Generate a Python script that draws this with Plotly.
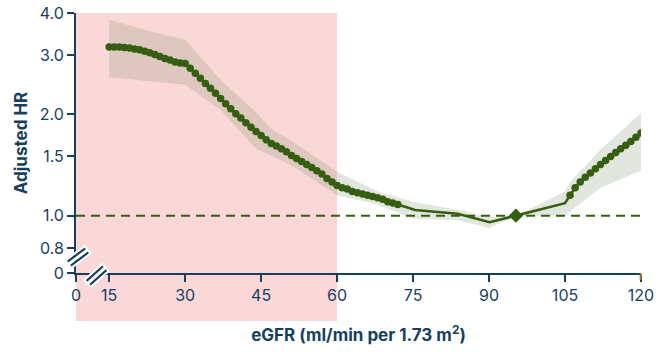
import math
import plotly.graph_objects as go

# ---------------- data ----------------
# Segment with markers (eGFR 15..72)
seg1_x = list(range(15, 73))
seg1_hr = [3.17, 3.17, 3.17, 3.16, 3.15, 3.13, 3.11, 3.08, 3.05, 3.01,
           2.97, 2.93, 2.90, 2.86, 2.84, 2.83, 2.74, 2.65, 2.56, 2.47,
           2.39, 2.31, 2.23, 2.15, 2.08, 2.01, 1.95, 1.89, 1.83, 1.78,
           1.73, 1.68, 1.64, 1.61, 1.58, 1.55, 1.51, 1.48, 1.45, 1.42,
           1.39, 1.36, 1.33, 1.29, 1.26, 1.23, 1.21, 1.20, 1.18, 1.17,
           1.16, 1.15, 1.14, 1.13, 1.12, 1.10, 1.09, 1.08]
# Segment without markers
seg2_x = [72, 75.4, 83.8, 90.1, 95.3, 105]
seg2_hr = [1.08, 1.04, 1.013, 0.956, 1.0, 1.09]
# Segment with markers (eGFR 106..120)
seg3_x = list(range(106, 121))
seg3_hr = [1.15, 1.21, 1.26, 1.30, 1.34, 1.38, 1.42, 1.46, 1.50, 1.54,
           1.58, 1.62, 1.66, 1.71, 1.76]
# Reference point
ref_x = [95.3]
ref_hr = [1.0]
# Confidence band
ci_x = [15, 22, 30, 37, 44, 47, 51, 60, 68, 75, 84, 90, 95.3, 105, 106, 112, 120]
ci_upper = [3.82, 3.57, 3.33, 2.53, 2.03, 1.81, 1.67, 1.35, 1.18, 1.10, 1.04,
            0.99, 1.00, 1.18, 1.26, 1.57, 2.02]
ci_lower = [2.58, 2.52, 2.45, 2.06, 1.58, 1.51, 1.41, 1.15, 1.08, 0.98, 0.97,
            0.92, 1.00, 1.00, 1.03, 1.21, 1.36]

x_tickvals = [8.45, 15, 30, 45, 60, 75, 90, 105, 120]
x_ticktext = ["0", "15", "30", "45", "60", "75", "90", "105", "120"]
y_tickvals = [0.676, 0.8, 1.0, 1.5, 2.0, 3.0, 4.0]
y_ticktext = ["0", "0.8", "1.0", "1.5", "2.0", "3.0", "4.0"]
ckd_limit = 60

# ---------------- style ----------------
W, H = 659, 352
ML, MR, MT, MB = 76, 18, 13, 79
PW, PH = W - ML - MR, H - MT - MB
NAVY = "#173f5f"
GREEN = "#365e10"
PINK = "#fad8d8"
FONT = "Inter"
XMIN, XMAX = 8.45, 120.0

all_x = seg1_x + seg2_x[1:] + seg3_x
all_y = seg1_hr + seg2_hr[1:] + seg3_hr

fig = go.Figure()
fig.add_trace(go.Scatter(x=ci_x, y=ci_upper, mode="lines", line=dict(width=0),
                         hoverinfo="skip", showlegend=False))
fig.add_trace(go.Scatter(x=ci_x, y=ci_lower, mode="lines", line=dict(width=0),
                         fill="tonexty", fillcolor="rgba(90,120,70,0.18)",
                         hoverinfo="skip", showlegend=False))
fig.add_trace(go.Scatter(x=[XMIN, XMAX], y=[1, 1], mode="lines",
                         line=dict(color=GREEN, width=2, dash="9px,6px"),
                         showlegend=False, hoverinfo="skip"))
fig.add_trace(go.Scatter(x=all_x, y=all_y, mode="lines",
                         line=dict(color=GREEN, width=2.5), showlegend=False))
fig.add_trace(go.Scatter(x=seg1_x + seg3_x, y=seg1_hr + seg3_hr, mode="markers",
                         marker=dict(color=GREEN, size=7.5), showlegend=False))
fig.add_trace(go.Scatter(x=ref_x, y=ref_hr, mode="markers",
                         marker=dict(color=GREEN, size=11, symbol="diamond"),
                         showlegend=False))


def to_paper(px, py):
    return (px - ML) / PW, (H - MB - py) / PH


shapes = []
# CKD region shading (extends below axis)
xp_end = (ckd_limit - XMIN) / (XMAX - XMIN)
shapes.append(dict(type="rect", xref="paper", yref="paper", x0=0, x1=xp_end,
                   y0=to_paper(0, 321)[1], y1=1, fillcolor=PINK, line_width=0,
                   layer="below"))


def brk(cx, cy, ang, L, w, lw):
    a = math.radians(ang)
    ux, uy = math.cos(a), -math.sin(a)
    nx, ny = math.sin(a), math.cos(a)
    pts = []
    for s1, s2 in [(-1, -1), (1, -1), (1, 1), (-1, 1)]:
        pts.append((cx + s1 * ux * L / 2 + s2 * nx * w / 2,
                    cy + s1 * uy * L / 2 + s2 * ny * w / 2))
    path = "M " + " L ".join("%f,%f" % to_paper(*p) for p in pts) + " Z"
    out = [dict(type="path", xref="paper", yref="paper", path=path,
                fillcolor="white", line=dict(color="#fbeaea", width=1), layer="above")]
    for off in (-lw, lw):
        x0 = cx - ux * (L / 2 - 2) + nx * off
        y0 = cy - uy * (L / 2 - 2) + ny * off
        x1 = cx + ux * (L / 2 - 2) + nx * off
        y1 = cy + uy * (L / 2 - 2) + ny * off
        p0, p1 = to_paper(x0, y0), to_paper(x1, y1)
        out.append(dict(type="line", xref="paper", yref="paper", x0=p0[0], y0=p0[1],
                        x1=p1[0], y1=p1[1], line=dict(color=NAVY, width=2.2),
                        layer="above"))
    return out


shapes += brk(78, 257, 37, 26, 11, 2.6)
shapes += brk(96.5, 275.5, 42, 26, 11, 2.6)
# brown tick at 120
p0, p1 = to_paper(640.7, 273), to_paper(640.7, 280)
shapes.append(dict(type="line", xref="paper", yref="paper", x0=p0[0], x1=p1[0],
                   y0=p0[1], y1=p1[1], line=dict(color="#a0702a", width=2),
                   layer="above"))

fig.update_layout(
    width=W, height=H, margin=dict(l=ML, r=MR, t=MT, b=MB, autoexpand=False),
    paper_bgcolor="white", plot_bgcolor="rgba(0,0,0,0)",
    font=dict(family=FONT, color=NAVY, size=15),
    shapes=shapes,
    xaxis=dict(range=[XMIN, XMAX], showgrid=False, zeroline=False, automargin=False,
               showline=True, linecolor=NAVY, linewidth=2,
               ticks="outside", ticklen=7, tickwidth=2, tickcolor=NAVY,
               tickvals=x_tickvals, ticktext=x_ticktext,
               tickfont=dict(size=16, color=NAVY, family=FONT),
               title=dict(text="eGFR (ml/min per 1.73 m<sup>2</sup>)", standoff=25,
                          font=dict(size=17, color=NAVY, family=FONT, weight="bold"))),
    yaxis=dict(type="log", range=[math.log10(0.676) - 1e-4, math.log10(4.0) + 1e-4],
               showgrid=False, zeroline=False, automargin=False,
               showline=True, linecolor=NAVY, linewidth=2,
               ticks="outside", ticklen=7, tickwidth=2, tickcolor=NAVY,
               tickvals=y_tickvals, ticktext=y_ticktext,
               tickfont=dict(size=16, color=NAVY, family=FONT),
               title=dict(text="Adjusted HR", standoff=8,
                          font=dict(size=17, color=NAVY, family=FONT, weight="bold"))),
)

fig.write_html("out.html")
